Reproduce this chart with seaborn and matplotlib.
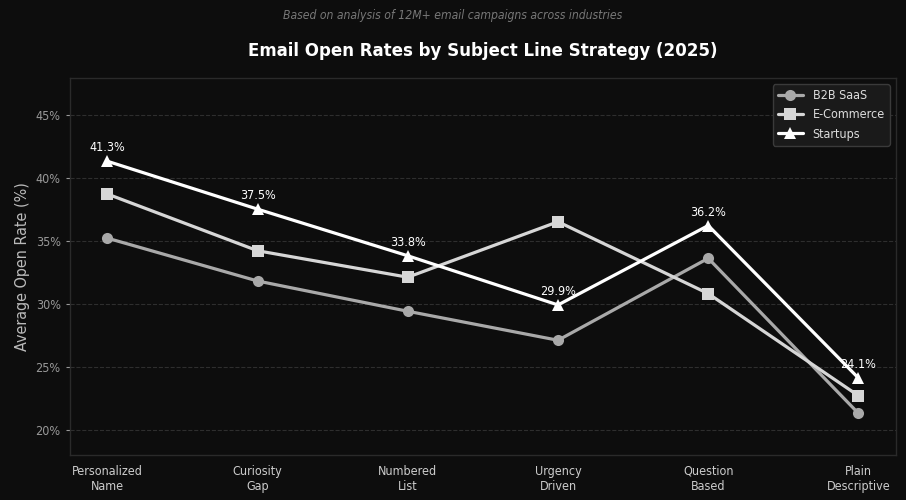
import matplotlib
matplotlib.use('Agg')
import matplotlib.pyplot as plt
import seaborn as sns
import pandas as pd
from matplotlib.ticker import FuncFormatter

strategies = ['Personalized\nName', 'Curiosity\nGap', 'Numbered\nList',
              'Urgency\nDriven', 'Question\nBased', 'Plain\nDescriptive']
b2b_saas = [35.2, 31.8, 29.4, 27.1, 33.6, 21.3]
ecommerce = [38.7, 34.2, 32.1, 36.5, 30.8, 22.7]
startups = [41.3, 37.5, 33.8, 29.9, 36.2, 24.1]
segments = ['B2B SaaS', 'E-Commerce', 'Startups']

rows = []
for seg, vals in zip(segments, [b2b_saas, ecommerce, startups]):
    for i, v in enumerate(vals):
        rows.append({'strategy': i, 'segment': seg, 'rate': v})
df = pd.DataFrame(rows)

bg = '#0d0d0d'
sns.set_style('dark')
plt.rcParams['font.family'] = ['DejaVu Sans']
plt.rcParams['font.stretch'] = 'condensed'

fig, ax = plt.subplots(figsize=(9.06, 5.0), dpi=100)
fig.patch.set_facecolor(bg)
ax.set_facecolor(bg)

palette = {'B2B SaaS': '#a9a9a9', 'E-Commerce': '#d6d6d6', 'Startups': '#ffffff'}
markers = {'B2B SaaS': 'o', 'E-Commerce': 's', 'Startups': '^'}

sns.lineplot(data=df, x='strategy', y='rate', hue='segment', style='segment',
             palette=palette, markers=markers, dashes=False, markersize=8,
             markeredgewidth=0, linewidth=2.3, ax=ax, legend=True)

for i, v in enumerate(startups):
    ax.annotate(f'{v}%', (i, v), textcoords='offset points', xytext=(0, 5),
                ha='center', va='bottom', color='white', fontsize=9)

ax.set_xlim(-0.25, 5.25)
ax.set_ylim(18, 47.9)
ax.set_yticks([20, 25, 30, 35, 40, 45])
ax.yaxis.set_major_formatter(FuncFormatter(lambda v, p: f'{v:.0f}%'))
ax.set_xticks(range(len(strategies)))
ax.set_xticklabels(strategies, color='#cccccc', fontsize=9)
ax.tick_params(axis='x', length=0, pad=7)
ax.tick_params(axis='y', colors='#999999', labelsize=9, length=3, left=True)
ax.set_xlabel('')
ax.set_ylabel('Average Open Rate (%)', color='#bbbbbb', fontsize=11.5)

ax.grid(True, axis='y', color='#2e2e2e', linestyle='--', linewidth=0.8)
ax.grid(False, axis='x')
for s in ax.spines.values():
    s.set_visible(True)
    s.set_color('#2a2a2a')
    s.set_linewidth(1)

ax.set_title('Email Open Rates by Subject Line Strategy (2025)', color='white',
             fontsize=13.3, fontweight='bold', pad=16)
fig.text(0.5, 0.969, 'Based on analysis of 12M+ email campaigns across industries',
         ha='center', va='center', color='#777777', fontsize=8.7, style='italic')

leg = ax.legend(loc='upper right', facecolor='#1a1a1a', edgecolor='#3a3a3a',
                fontsize=9, framealpha=1)
for t in leg.get_texts():
    t.set_color('#dddddd')

fig.subplots_adjust(left=0.077, right=0.989, top=0.844, bottom=0.09)
fig.savefig('out.png', dpi=100, facecolor=bg)
